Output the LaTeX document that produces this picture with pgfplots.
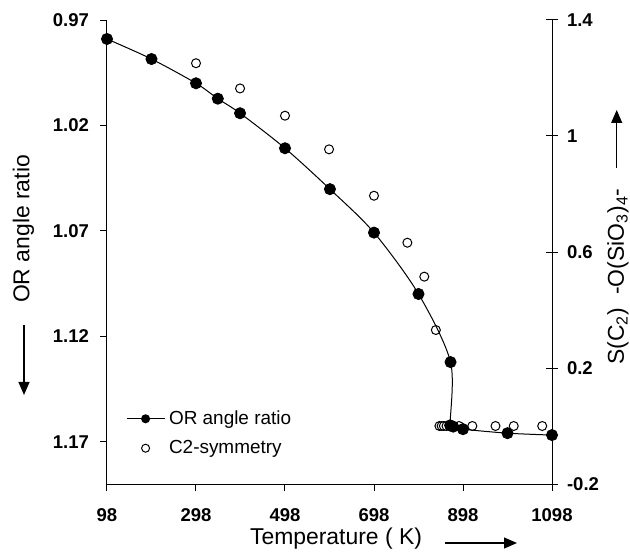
\documentclass[border=0pt]{standalone}
\usepackage{fontspec}
\setmainfont{Liberation Sans}
\usepackage{pgfplots}
\pgfplotsset{compat=1.18}
\usetikzlibrary{arrows.meta}

\pgfplotsset{
  common/.style={
    scale only axis, width=222.5bp, height=232bp,
    xmin=98, xmax=1098, clip=false,
    axis line style={line width=0.5bp, black},
    tick style={line width=0.5bp, black},
    tick label style={font=\fontsize{9.3}{11}\selectfont\bfseries},
  },
}

\begin{document}
\begin{tikzpicture}
% right axis: C2-symmetry (open circles)
\begin{axis}[common,
    axis x line=none,
    axis y line*=right,
    ymin=-0.2, ymax=1.4,
    ytick={-0.2,0.2,0.6,1,1.4},
    yticklabels={-0.2,0.2,0.6,1,1.4},
    tick align=center, major tick length=6bp,
    yticklabel style={xshift=1bp},
]
\addplot[only marks, mark=*, mark size=2.25bp,
    mark options={fill=white, draw=black, line width=0.5bp}] coordinates {
    (298,1.251) (397,1.164) (498,1.070) (597,0.954) (698,0.794)
    (773,0.632) (811,0.515) (837,0.331)
    (845,0) (850,0) (855,0) (861,0) (870,0) (889,0)
    (919,0) (971,0) (1012,0) (1076,0)
};
\end{axis}
% left axis: OR angle ratio (filled circles), reversed
\begin{axis}[common,
    axis x line*=bottom,
    axis y line*=left,
    y dir=reverse,
    ymin=0.97, ymax=1.19,
    ytick={0.97,1.02,1.07,1.12,1.17},
    yticklabels={0.97,1.02,1.07,1.12,1.17},
    xtick={98,298,498,698,898,1098},
    xticklabels={98,298,498,698,898,1098},
    tick align=outside, major tick length=3.5bp,
    xticklabel style={yshift=-5.5bp},
    yticklabel style={xshift=-2bp},
    legend style={at={(0.042,0.168)}, anchor=north west, draw=none, fill=none,
        inner sep=0pt, row sep=2.5bp,
        font=\fontsize{9.5}{11}\selectfont},
    legend cell align=left,
    legend image code/.code={
        \draw[mark repeat=2, mark phase=2, #1]
            plot coordinates {(0bp,0bp) (9.5bp,0bp) (19bp,0bp)};},
]
\addplot[black, line width=0.5bp, smooth, tension=0.5, mark=*, mark size=2.75bp, forget plot]
  coordinates {
    (98,0.979) (198,0.9885) (298,1.000) (347,1.0073) (397,1.0142)
    (498,1.0308) (599,1.0502) (698,1.0708) (798,1.0999) (870,1.1322)
    (869,1.1622) (876,1.1628) (898,1.1640) (998,1.1659) (1098,1.1668)
};
\addlegendimage{black, line width=0.5bp, mark=*, mark size=2bp}
\addlegendentry{OR angle ratio}
\addlegendimage{only marks, mark=*, mark size=2bp,
    mark options={fill=white, draw=black, line width=0.5bp}}
\addlegendentry{C2-symmetry}
\coordinate (O) at (rel axis cs:0,0);
\coordinate (T) at (rel axis cs:1,1);
\end{axis}
% axis titles and arrows
\node[font=\fontsize{11.5}{13}\selectfont] at ([shift={(114.5bp,-27.5bp)}]O) {Temperature ( K)};
\draw[line width=0.6bp, -{Triangle[length=6.5bp,width=5.5bp]}]
    ([shift={(169bp,-29.5bp)}]O) -- ([shift={(205bp,-29.5bp)}]O);
\node[rotate=90, font=\fontsize{11.5}{13}\selectfont] at ([shift={(-41.75bp,127.5bp)}]O) {OR angle ratio};
\draw[line width=0.6bp, -{Triangle[length=6.5bp,width=5.5bp]}]
    ([shift={(-41.5bp,79.5bp)}]O) -- ([shift={(-41.5bp,44.5bp)}]O);
\node[rotate=90, font=\fontsize{11.5}{13}\selectfont] at ([shift={(255.5bp,103.75bp)}]O)
    {S(C\textsubscript{2})\ \ -O(SiO\textsubscript{3})\textsubscript{4}-};
\draw[line width=0.6bp, -{Triangle[length=6.5bp,width=5.5bp]}]
    ([shift={(254.85bp,158bp)}]O) -- ([shift={(254.85bp,187bp)}]O);
\pgfresetboundingbox
\path ([shift={(-53.5bp,-34bp)}]O) rectangle ([shift={(39bp,10bp)}]T);
\end{tikzpicture}
\end{document}
